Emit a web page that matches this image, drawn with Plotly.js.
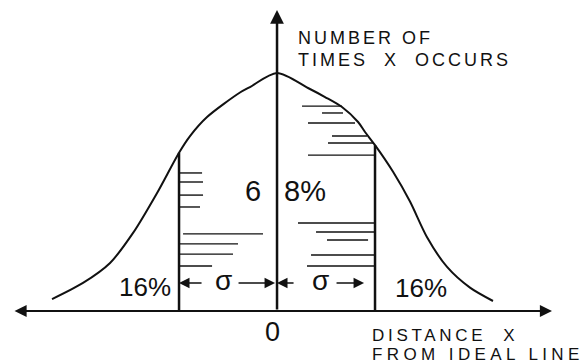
<!DOCTYPE html>
<html>
<head>
<meta charset="utf-8">
<script src="https://cdn.plot.ly/plotly-3.0.1.min.js"></script>
<style>
html,body{margin:0;padding:0;background:#fff;}
#chart{width:586px;height:363px;}
</style>
</head>
<body>
<div id="chart"></div>
<script>
// Distance x in units of sigma, y = relative number of times x occurs (peak = 1)
const curveX = [-2.296, -1.980, -1.704, -1.469, -1.224, -1.0, -0.888, -0.714, -0.378, -0.276, 0.0, 0.316, 0.490, 0.663, 0.827, 0.898, 1.0, 1.184, 1.357, 1.531, 1.735, 1.969, 2.204];
const curveY = [0.050, 0.118, 0.202, 0.328, 0.496, 0.665, 0.735, 0.815, 0.918, 0.941, 1.0, 0.937, 0.899, 0.857, 0.794, 0.752, 0.697, 0.585, 0.460, 0.310, 0.185, 0.098, 0.042];

// sigma boundaries
const sigmaX = [-1, 1];

// hatching strokes inside the 68% band
const hatchY  = [0.580, 0.542, 0.487, 0.437, 0.324, 0.282, 0.239, 0.189,
                 0.861, 0.832, 0.790, 0.735, 0.706, 0.655, 0.370, 0.332, 0.298, 0.235, 0.189];
const hatchX0 = [-1.0, -1.0, -1.0, -1.0, -0.959, -1.0, -1.0, -1.0,
                 0.255, 0.459, 0.316, 0.561, 0.520, 0.316, 0.214, 0.398, 0.510, 0.347, 0.306];
const hatchX1 = [-0.765, -0.755, -0.755, -0.786, -0.143, -0.398, -0.449, -0.663,
                 0.663, 0.673, 0.796, 0.918, 0.990, 0.990, 0.990, 0.990, 0.929, 0.990, 0.990];

// sigma dimension arrows (tail -> tip)
const dimY = 0.118;
const dimTail = [-0.755, -0.408, 0.184, 0.592];
const dimTip  = [-1.0, -0.02, 0.0, 0.888];
const sigmaLabelX = [-0.551, 0.439];

// percentage labels
const pctLabels = ['16%', '16%'];
const pctX = [-1.347, 1.469];
const pctY = [0.101, 0.097];

const xRange = [-2.827, 3.153];
const yRange = [-0.2185, 1.3067];

const ink = '#111';
const font = 'Liberation Sans, Arial, sans-serif';

const hx = [], hy = [];
for (let i = 0; i < hatchY.length; i++) {
  hx.push(hatchX0[i], hatchX1[i], null);
  hy.push(hatchY[i], hatchY[i], null);
}
const sx = [], sy = [];
for (let i = 0; i < sigmaX.length; i++) {
  const k = curveX.indexOf(sigmaX[i]);
  sx.push(sigmaX[i], sigmaX[i], null);
  sy.push(0, curveY[k], null);
}

const traces = [
  {x: curveX, y: curveY, type: 'scatter', mode: 'lines',
   line: {color: ink, width: 2, shape: 'spline', smoothing: 0.8}, hoverinfo: 'skip'},
  {x: sx, y: sy, type: 'scatter', mode: 'lines', line: {color: ink, width: 2.5}, hoverinfo: 'skip'},
  {x: hx, y: hy, type: 'scatter', mode: 'lines', line: {color: ink, width: 1.4}, hoverinfo: 'skip'}
];

const annotations = [];
// x axis (double headed)
annotations.push({x: 2.806, y: 0, ax: -2.694, ay: 0, xref: 'x', yref: 'y', axref: 'x', ayref: 'y',
  showarrow: true, arrowhead: 2, startarrowhead: 2, arrowside: 'end+start', arrowsize: 1.1, startarrowsize: 1.1,
  arrowwidth: 2.2, arrowcolor: ink, text: ''});
// y axis
annotations.push({x: 0, y: 1.265, ax: 0, ay: 0, xref: 'x', yref: 'y', axref: 'x', ayref: 'y',
  showarrow: true, arrowhead: 2, arrowsize: 1.1, arrowwidth: 2.5, arrowcolor: ink, text: ''});
// sigma arrows
for (let i = 0; i < dimTail.length; i++) {
  annotations.push({x: dimTip[i], y: dimY, ax: dimTail[i], ay: dimY, xref: 'x', yref: 'y', axref: 'x', ayref: 'y',
    showarrow: true, arrowhead: 2, arrowsize: 1.4, arrowwidth: 1.5, arrowcolor: ink, text: ''});
}
for (let i = 0; i < sigmaLabelX.length; i++) {
  annotations.push({x: sigmaLabelX[i], y: dimY + 0.012, xref: 'x', yref: 'y', showarrow: false,
    text: 'σ', font: {family: font, size: 28, color: ink}, xanchor: 'center', yanchor: 'middle'});
}
for (let i = 0; i < pctLabels.length; i++) {
  annotations.push({x: pctX[i], y: pctY[i], xref: 'x', yref: 'y', showarrow: false,
    text: pctLabels[i], font: {family: font, size: 26, color: ink}, xanchor: 'center', yanchor: 'middle'});
}
annotations.push({x: -0.245, y: 0.504, xref: 'x', yref: 'y', showarrow: false, text: '6',
  font: {family: font, size: 29, color: ink}, xanchor: 'center', yanchor: 'middle'});
annotations.push({x: 0.051, y: 0.504, xref: 'x', yref: 'y', showarrow: false, text: '8%',
  font: {family: font, size: 29, color: ink}, xanchor: 'left', yanchor: 'middle'});
annotations.push({x: -0.051, y: -0.088, xref: 'x', yref: 'y', showarrow: false, text: '0',
  font: {family: font, size: 27, color: ink}, xanchor: 'center', yanchor: 'middle'});
// axis titles
annotations.push({x: 0.195, y: 1.145, xref: 'x', yref: 'y', showarrow: false, xanchor: 'left', yanchor: 'middle', align: 'left',
  text: '<span style="letter-spacing:3px">NUMBER OF</span>',
  font: {family: font, size: 18, color: ink}});
annotations.push({x: 0.195, y: 1.055, xref: 'x', yref: 'y', showarrow: false, xanchor: 'left', yanchor: 'middle', align: 'left',
  text: '<span style="letter-spacing:3px">TIMES  X  OCCURS</span>',
  font: {family: font, size: 18, color: ink}});
annotations.push({x: 0.949, y: -0.105, xref: 'x', yref: 'y', showarrow: false, xanchor: 'left', yanchor: 'middle', align: 'left',
  text: '<span style="letter-spacing:3.7px">DISTANCE  X</span>',
  font: {family: font, size: 17, color: ink}});
annotations.push({x: 0.949, y: -0.181, xref: 'x', yref: 'y', showarrow: false, xanchor: 'left', yanchor: 'middle', align: 'left',
  text: '<span style="letter-spacing:4.4px">FROM IDEAL LINE</span>',
  font: {family: font, size: 17, color: ink}});

const layout = {
  width: 586, height: 363,
  margin: {l: 0, r: 0, t: 0, b: 0, pad: 0},
  paper_bgcolor: '#fff', plot_bgcolor: '#fff',
  showlegend: false,
  xaxis: {range: xRange, visible: false, fixedrange: true},
  yaxis: {range: yRange, visible: false, fixedrange: true},
  annotations: annotations
};

Plotly.newPlot('chart', traces, layout, {staticPlot: true, displayModeBar: false});
</script>
</body>
</html>
